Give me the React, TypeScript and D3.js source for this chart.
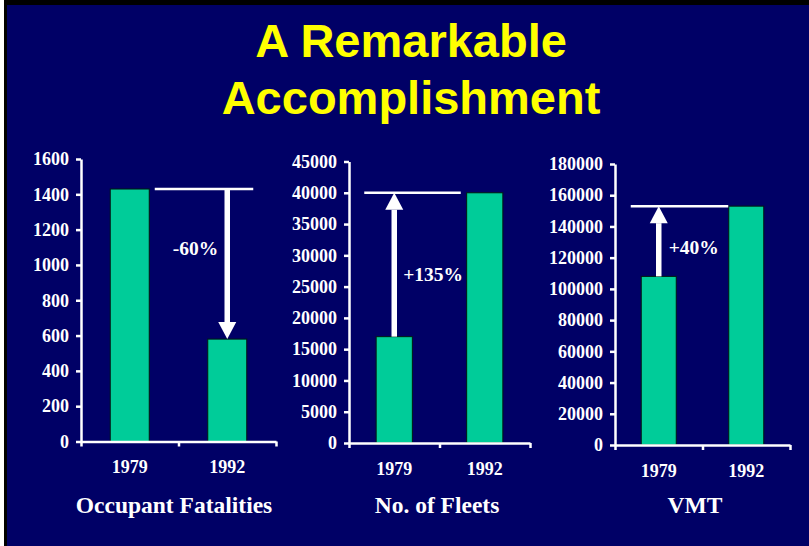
import React from 'react';
import { select, scaleBand, scaleLinear, axisLeft, axisBottom } from 'd3';

const years = ['1979', '1992'];
const fatalities = [1430, 580];
const fleets = [17000, 40000];
const vmt = [108000, 153000];
const fatalityTicks = [0, 200, 400, 600, 800, 1000, 1200, 1400, 1600];
const fleetTicks = [0, 5000, 10000, 15000, 20000, 25000, 30000, 35000, 40000, 45000];
const vmtTicks = [0, 20000, 40000, 60000, 80000, 100000, 120000, 140000, 160000, 180000];
const panelTitles = ['Occupant Fatalities', 'No. of Fleets', 'VMT'];
const changeLabels = ['-60%', '+135%', '+40%'];

const W = 809;
const H = 546;
const NAVY = '#000066';
const GREEN = '#00CC99';
const YELLOW = '#FFFF00';
const SERIF = '"Liberation Serif", "Times New Roman", serif';

// layout of each small chart (pixels), kept apart from the values
const panels = [
  { values: fatalities, ticks: fatalityTicks, x0: 81, x1: 276, y0: 441.5, yTop: 159, titleX: 174,
    dir: 'down', line: [25, 26], labelDx: -9, labelDy: -9, anchor: 'end' },
  { values: fleets, ticks: fleetTicks, x0: 349, x1: 530, y0: 443, yTop: 161.5, titleX: 437,
    dir: 'up', line: [-30, -24], labelDx: 9, labelDy: 16, anchor: 'start' },
  { values: vmt, ticks: vmtTicks, x0: 615, x1: 790, y0: 445, yTop: 164, titleX: 695,
    dir: 'up', line: [-28, -18], labelDx: 10, labelDy: 13, anchor: 'start' },
];

export default function App() {
  const svgRef = React.useRef<SVGSVGElement>(null);

  React.useEffect(() => {
    const svg = select(svgRef.current);
    svg.selectAll('*').remove();

    svg.append('rect').attr('width', W).attr('height', H).attr('fill', '#ffffff');
    svg.append('rect').attr('x', 4).attr('width', W - 4).attr('height', H).attr('fill', '#000000');
    svg.append('rect').attr('x', 7).attr('y', 5).attr('width', W - 7).attr('height', H - 5).attr('fill', NAVY);

    // title
    const title = svg.append('text')
      .attr('text-anchor', 'middle')
      .attr('fill', YELLOW)
      .style('font-family', '"Liberation Sans", Arial, sans-serif')
      .style('font-weight', 'bold')
      .style('font-size', '47px');
    title.append('tspan').attr('x', 411).attr('y', 57).text('A Remarkable');
    title.append('tspan').attr('x', 411).attr('y', 114).text('Accomplishment');

    panels.forEach((p, i) => {
      const g = svg.append('g');
      const max = p.ticks[p.ticks.length - 1];
      const y = scaleLinear().domain([0, max]).range([p.y0, p.yTop]);
      const x = scaleBand<string>()
        .domain(years)
        .range([p.x0, p.x1])
        .paddingInner(0.6)
        .paddingOuter(0.3);
      const xEdge = scaleLinear().domain([0, years.length]).range([p.x0, p.x1]);

      // bars
      g.selectAll('.bar')
        .data(p.values)
        .join('rect')
        .attr('class', 'bar')
        .attr('x', (_, j) => x(years[j]) as number)
        .attr('y', v => y(v))
        .attr('width', x.bandwidth())
        .attr('height', v => p.y0 - y(v))
        .attr('fill', GREEN)
        .attr('stroke', '#001a10')
        .attr('stroke-width', 1);

      // y axis
      const yAxis = axisLeft(y)
        .tickValues(p.ticks)
        .tickSize(5)
        .tickPadding(7)
        .tickSizeOuter(0)
        .tickFormat(d => String(d));
      const ya = g.append('g').attr('transform', `translate(${p.x0},0)`).call(yAxis as any);
      // x axis (ticks at the band edges)
      const xAxis = axisBottom(xEdge).tickValues([0, 1, 2]).tickSize(5).tickSizeOuter(0).tickFormat(() => '');
      const xa = g.append('g').attr('transform', `translate(0,${p.y0})`).call(xAxis as any);

      [ya, xa].forEach(a => {
        a.select('.domain').attr('stroke', '#ffffff').attr('stroke-width', 2.5);
        a.selectAll('.tick line').attr('stroke', '#ffffff').attr('stroke-width', 2.5);
      });
      ya.selectAll('.tick text')
        .attr('fill', '#ffffff')
        .style('font-family', SERIF)
        .style('font-weight', 'bold')
        .style('font-size', '18px');

      // year labels
      g.selectAll('.year')
        .data(years)
        .join('text')
        .attr('class', 'year')
        .attr('x', d => (x(d) as number) + x.bandwidth() / 2)
        .attr('y', p.y0 + 31.5)
        .attr('text-anchor', 'middle')
        .attr('fill', '#ffffff')
        .style('font-family', SERIF)
        .style('font-weight', 'bold')
        .style('font-size', '18px')
        .text(d => d);

      // panel title
      g.append('text')
        .attr('x', p.titleX)
        .attr('y', 513)
        .attr('text-anchor', 'middle')
        .attr('fill', '#ffffff')
        .style('font-family', SERIF)
        .style('font-weight', 'bold')
        .style('font-size', '23.5px')
        .text(panelTitles[i]);

      // reference line and change arrow
      const c0 = (x(years[0]) as number) + x.bandwidth() / 2;
      const c1 = (x(years[1]) as number) + x.bandwidth() / 2;
      const refY = p.dir === 'down' ? y(p.values[0]) : y(p.values[1]);
      const otherY = p.dir === 'down' ? y(p.values[1]) : y(p.values[0]);
      const ax = p.dir === 'down' ? c1 : c0;

      g.append('line')
        .attr('x1', c0 + p.line[0])
        .attr('x2', c1 + p.line[1])
        .attr('y1', refY)
        .attr('y2', refY)
        .attr('stroke', '#ffffff')
        .attr('stroke-width', 2.5);

      const tipY = p.dir === 'down' ? otherY : refY;
      const tailY = p.dir === 'down' ? refY : otherY;
      const headLen = 17;
      const headHalf = 9;
      const sgn = p.dir === 'down' ? -1 : 1;
      g.append('line')
        .attr('x1', ax)
        .attr('x2', ax)
        .attr('y1', tailY)
        .attr('y2', tipY + sgn * headLen)
        .attr('stroke', '#ffffff')
        .attr('stroke-width', 5.5);
      g.append('path')
        .attr('d', `M${ax},${tipY} L${ax - headHalf},${tipY + sgn * headLen} L${ax + headHalf},${tipY + sgn * headLen} Z`)
        .attr('fill', '#ffffff');

      g.append('text')
        .attr('x', ax + p.labelDx)
        .attr('y', (refY + otherY) / 2 + p.labelDy)
        .attr('text-anchor', p.anchor)
        .attr('fill', '#ffffff')
        .style('font-family', SERIF)
        .style('font-weight', 'bold')
        .style('font-size', '19.5px')
        .text(changeLabels[i]);
    });
  }, []);

  return (
    <svg
      ref={svgRef}
      width={W}
      height={H}
      style={{ position: 'absolute', left: 0, top: 0, display: 'block' }}
    />
  );
}
